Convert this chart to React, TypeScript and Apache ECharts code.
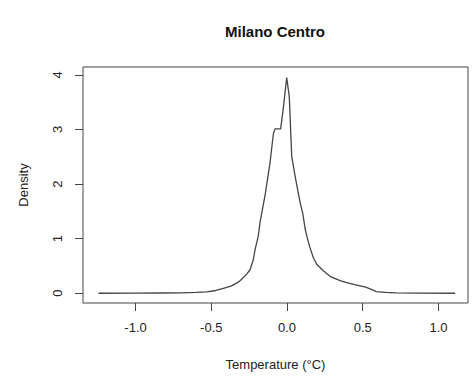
import React, { useEffect, useRef } from "react";
import * as echarts from "echarts";

const chartTitle = "Milano Centro";
const xAxisTitle = "Temperature (°C)";
const yAxisTitle = "Density";
const xTicks = [-1, -0.5, 0, 0.5, 1];
const yTicks = [0, 1, 2, 3, 4];

// density curve: temperature (°C)
const temps = [
  -1.245, -1.0, -0.84, -0.7, -0.6, -0.53, -0.47, -0.42, -0.37, -0.33, -0.31,
  -0.266, -0.244, -0.222, -0.211, -0.19, -0.178, -0.145, -0.112, -0.09, -0.079,
  -0.042, -0.024, -0.002, 0.015, 0.031, 0.053, 0.086, 0.105, 0.119, 0.135,
  0.152, 0.174, 0.196, 0.24, 0.284, 0.35, 0.4, 0.46, 0.52, 0.548, 0.59, 0.65,
  0.72, 0.85, 1.11,
];
// density values
const densities = [
  0.0, 0.002, 0.004, 0.008, 0.015, 0.025, 0.05, 0.09, 0.13, 0.19, 0.23,
  0.35, 0.43, 0.62, 0.8, 1.04, 1.3, 1.79, 2.39, 2.92, 3.01,
  3.01, 3.4, 3.95, 3.6, 2.51, 2.15, 1.67, 1.45, 1.19, 1.0,
  0.83, 0.65, 0.53, 0.41, 0.31, 0.23, 0.19, 0.15, 0.11, 0.08, 0.03, 0.015,
  0.005, 0.002, 0.0,
];

const FONT = "'Liberation Sans', Arial, Helvetica, sans-serif";

export default function App() {
  const ref = useRef<HTMLDivElement>(null);
  useEffect(() => {
    if (!ref.current) return;
    const chart = echarts.init(ref.current, null, { renderer: "svg" });
    const data = temps.map((t, i) => [t, densities[i]]);
    chart.setOption({
      animation: false,
      backgroundColor: "#ffffff",
      textStyle: { fontFamily: FONT },
      title: {
        text: chartTitle,
        left: 275,
        top: 24,
        textAlign: "center",
        padding: 0,
        textStyle: { fontFamily: FONT, fontSize: 15, fontWeight: "bold", color: "#111" },
      },
      grid: {
        left: 83,
        right: 6,
        top: 67,
        bottom: 68,
        show: true,
        borderColor: "#444",
        borderWidth: 1,
        backgroundColor: "transparent",
      },
      xAxis: {
        type: "value",
        min: -1.347,
        max: 1.195,
        name: xAxisTitle,
        nameLocation: "middle",
        nameGap: 55,
        nameTextStyle: { fontFamily: FONT, fontSize: 13, color: "#222" },
        axisLine: { show: false, onZero: false },
        splitLine: { show: false },
        axisTick: {
          show: true,
          length: 8,
          customValues: xTicks,
          lineStyle: { color: "#444" },
        },
        axisLabel: {
          customValues: xTicks,
          margin: 18,
          fontFamily: FONT,
          fontSize: 13,
          color: "#222",
          formatter: (v: number) => v.toFixed(1),
        },
      },
      yAxis: {
        type: "value",
        min: -0.179,
        max: 4.143,
        name: yAxisTitle,
        nameLocation: "middle",
        nameRotate: 90,
        nameGap: 53,
        nameTextStyle: { fontFamily: FONT, fontSize: 13, color: "#222" },
        axisLine: { show: false, onZero: false },
        splitLine: { show: false },
        axisTick: {
          show: true,
          length: 8,
          customValues: yTicks,
          lineStyle: { color: "#444" },
        },
        axisLabel: {
          customValues: yTicks,
          rotate: 90,
          margin: 19,
          fontFamily: FONT,
          fontSize: 13,
          color: "#222",
          formatter: (v: number) => String(v),
        },
      },
      series: [
        {
          type: "line",
          data,
          showSymbol: false,
          smooth: false,
          lineStyle: { color: "#444", width: 1.3 },
        },
      ],
    });
    return () => chart.dispose();
  }, []);
  return (
    <div
      ref={ref}
      style={{ position: "absolute", left: 0, top: 0, width: 474, height: 376 }}
    />
  );
}
